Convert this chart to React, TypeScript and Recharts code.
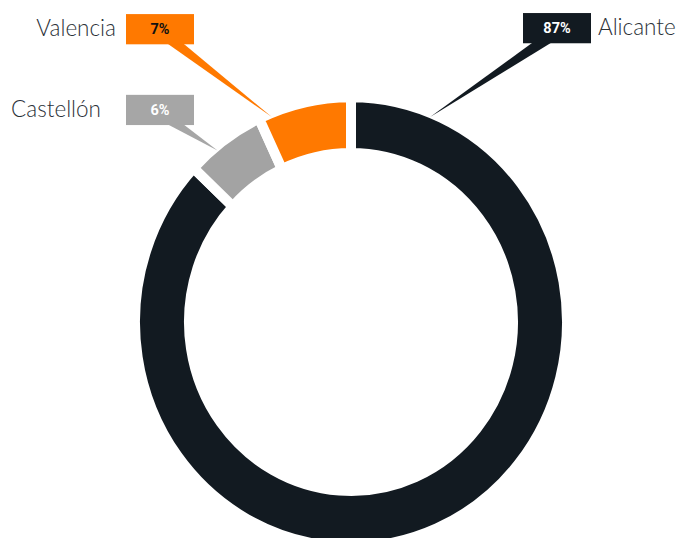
import React from "react";
import { Cell, Pie, PieChart } from "recharts";

const regions = ["Alicante", "Castellón", "Valencia"];
const shares = [87, 6, 7];
const sliceColors = ["#121a21", "#a3a3a3", "#ff7900"];
const boxColors = ["#121a21", "#a6a6a6", "#ff7900"];
const valueTextColors = ["#ffffff", "#ffffff", "#111111"];

const data = regions.map((name, i) => ({ name, value: shares[i] }));

const RAD = Math.PI / 180;
const CX = 351;
const CY = 322;
// the reference ring is a touch taller than it is wide
const STRETCH_Y = 1.042;
// white outline that cuts the even-width gaps between slices
const GAP = 10;

// callout layout, relative to the pie centre
const callouts = [
  { side: "right", boxX: 172, boxY: -296.5, baseX: [10, 29], anchor: 0.07, nameGap: 7 },
  { side: "left", boxX: -225, boxY: -218, baseX: [41, 57], anchor: 0.36, nameGap: 25 },
  { side: "left", boxX: -225, boxY: -295.5, baseX: [41, 57], anchor: 0.13, nameGap: 10 },
];
const BOX_W = 68;
const BOX_H = 29;

function Callout(props: any) {
  const { cx, cy, startAngle, endAngle, outerRadius, index, percent, name } = props;
  const c = callouts[index];
  const a = startAngle + (endAngle - startAngle) * c.anchor;
  const r = outerRadius - GAP / 2 + 1;
  const tipX = cx + r * Math.cos(a * RAD);
  const tipY = cy - r * Math.sin(a * RAD);
  const bx = cx + c.boxX;
  const by = cy + c.boxY;
  const tail = `${bx + c.baseX[0]},${by + BOX_H - 1} ${bx + c.baseX[1]},${by + BOX_H - 1} ${tipX},${tipY}`;
  const isRight = c.side === "right";
  return (
    <g>
      <polygon points={tail} fill={boxColors[index]} />
      <rect x={bx} y={by} width={BOX_W} height={BOX_H} fill={boxColors[index]} />
      <text
        x={bx + BOX_W / 2}
        y={by + BOX_H / 2 + 5}
        textAnchor="middle"
        fontFamily="Roboto, sans-serif"
        fontWeight={700}
        fontSize={14.5}
        fill={valueTextColors[index]}
      >
        {`${Math.round(percent * 100)}%`}
      </text>
      <text
        x={isRight ? bx + BOX_W + c.nameGap : bx - c.nameGap}
        y={by + BOX_H / 2 + 7}
        textAnchor={isRight ? "start" : "end"}
        fontFamily="Lato, 'Open Sans', sans-serif"
        fontWeight={300}
        fontSize={22.5}
        fill="#2b3138"
      >
        {name}
      </text>
    </g>
  );
}

export default function App() {
  return (
    <div
      style={{
        position: "absolute",
        left: 0,
        top: 0,
        width: 678,
        height: 538,
        overflow: "hidden",
        background: "#fff",
      }}
    >
      <div style={{ transform: `scaleY(${STRETCH_Y})`, transformOrigin: `0px ${CY}px` }}>
        <PieChart width={678} height={538} margin={{ top: 0, right: 0, bottom: 0, left: 0 }}>
          <Pie
            data={data}
            dataKey="value"
            nameKey="name"
            cx={CX}
            cy={CY}
            innerRadius={167 - GAP / 2}
            outerRadius={211 + GAP / 2}
            startAngle={90}
            endAngle={90 - 360}
            paddingAngle={0}
            stroke="#ffffff"
            strokeWidth={GAP}
            label={Callout}
            labelLine={false}
            isAnimationActive={false}
          >
            {data.map((d, i) => (
              <Cell key={d.name} fill={sliceColors[i]} stroke="#ffffff" strokeWidth={GAP} />
            ))}
          </Pie>
        </PieChart>
      </div>
    </div>
  );
}
